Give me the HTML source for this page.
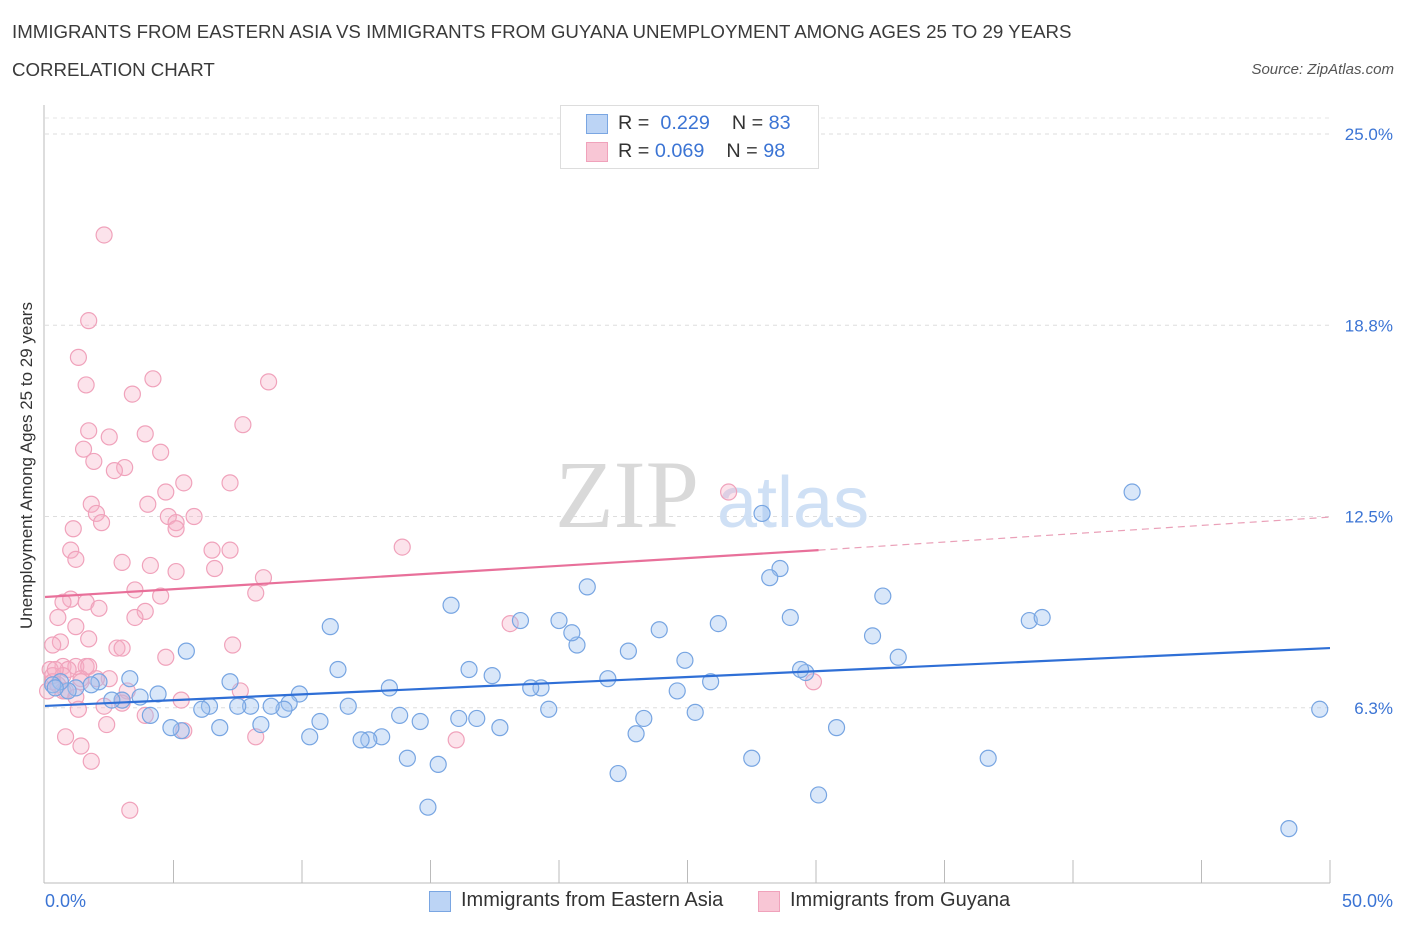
<!DOCTYPE html>
<html><head><meta charset="utf-8"><style>
body{margin:0;background:#fff;font-family:"Liberation Sans",sans-serif;}
#c{position:relative;width:1406px;height:930px;overflow:hidden}
.t{position:absolute;color:#333;white-space:nowrap}
</style></head><body>
<div id="c">
<div class="t" style="left:12px;top:21px;font-size:18.7px;color:#3a3a3a">IMMIGRANTS FROM EASTERN ASIA VS IMMIGRANTS FROM GUYANA UNEMPLOYMENT AMONG AGES 25 TO 29 YEARS</div>
<div class="t" style="left:12px;top:59px;font-size:18.7px;color:#3a3a3a">CORRELATION CHART</div>
<div class="t" style="right:12px;top:61px;font-size:15px;font-style:italic;color:#555">Source: ZipAtlas.com</div>
<svg id="s" width="1406" height="930" style="position:absolute;left:0;top:0"></svg>
</div>
<script>
const blueX=[42.3,49.6,48.4,36.7,38.3,38.8,32.6,32.2,33.2,30.8,30.1,29.6,29.4,29.0,28.6,28.2,27.9,27.5,26.2,25.9,25.3,24.9,24.6,23.9,23.3,23.0,22.7,22.3,21.9,21.1,20.7,20.5,20.0,19.6,19.3,18.9,18.5,17.7,17.4,16.8,16.5,16.1,15.8,15.3,14.9,14.6,14.1,13.8,13.4,13.1,12.6,12.3,11.8,11.4,11.1,10.7,10.3,9.9,9.5,9.3,8.8,8.4,8.0,7.5,7.2,6.8,6.4,6.1,5.5,5.3,4.9,4.4,4.1,3.7,3.3,3.0,2.6,2.1,1.8,1.2,0.9,0.6,0.3,0.4];
const blueY=[13.3,6.2,2.3,4.6,9.1,9.2,9.9,8.6,7.9,5.6,3.4,7.4,7.5,9.2,10.8,10.5,12.6,4.6,9.0,7.1,6.1,7.8,6.8,8.8,5.9,5.4,8.1,4.1,7.2,10.2,8.3,8.7,9.1,6.2,6.9,6.9,9.1,5.6,7.3,5.9,7.5,5.9,9.6,4.4,3.0,5.8,4.6,6.0,6.9,5.3,5.2,5.2,6.3,7.5,8.9,5.8,5.3,6.7,6.4,6.2,6.3,5.7,6.3,6.3,7.1,5.6,6.3,6.2,8.1,5.5,5.6,6.7,6.0,6.6,7.2,6.5,6.5,7.1,7.0,6.9,6.8,7.1,7.0,6.9];
const pinkX=[2.3,1.7,1.3,1.6,4.2,8.7,3.4,7.7,1.7,2.5,3.9,4.5,1.5,1.9,3.1,2.7,7.2,5.4,4.7,1.8,2.0,4.0,4.8,5.8,5.1,2.2,5.1,1.1,13.9,1.0,6.5,7.2,1.2,3.0,4.1,6.6,5.1,8.5,3.5,8.2,4.5,1.0,0.7,1.6,2.1,3.9,3.5,0.5,1.2,18.1,2.8,3.0,7.3,1.7,0.6,0.3,4.7,0.7,1.6,1.2,1.7,0.9,0.2,0.3,0.7,1.4,2.5,2.0,0.3,0.5,1.4,0.8,3.2,7.6,3.0,5.3,2.3,1.3,3.9,2.4,0.8,8.2,16.0,1.4,5.4,1.8,3.3,26.6,29.9,0.4,0.1,0.7,3.0,1.2];
const pinkY=[21.7,18.9,17.7,16.8,17.0,16.9,16.5,15.5,15.3,15.1,15.2,14.6,14.7,14.3,14.1,14.0,13.6,13.6,13.3,12.9,12.6,12.9,12.5,12.5,12.3,12.3,12.1,12.1,11.5,11.4,11.4,11.4,11.1,11.0,10.9,10.8,10.7,10.5,10.1,10.0,9.9,9.8,9.7,9.7,9.5,9.4,9.2,9.2,8.9,9.0,8.2,8.2,8.3,8.5,8.4,8.3,7.9,7.6,7.6,7.6,7.6,7.5,7.5,7.3,7.3,7.2,7.2,7.2,7.1,7.0,7.1,6.8,6.8,6.8,6.5,6.5,6.3,6.2,6.0,5.7,5.3,5.3,5.2,5.0,5.5,4.5,2.9,13.3,7.1,7.5,6.8,6.8,6.4,6.6];
const blueTrend=[6.31,8.2];
const pinkTrend=[9.87,11.4,12.48];
const pinkSolidEnd=30.1;
const yTicks=[6.25,12.5,18.75,25];
const yTickLabels=["6.3%","12.5%","18.8%","25.0%"];

const X=v=>45+v*25.7, Y=v=>899-v*30.6;
const s=document.getElementById('s'),NS='http://www.w3.org/2000/svg';
function mk(t,a,p){const e=document.createElementNS(NS,t);for(const k in a)e.setAttribute(k,a[k]);(p||s).appendChild(e);return e;}
yTicks.forEach((v,i)=>{
 const g=mk('line',{x1:45,x2:1330,y1:Y(v),y2:Y(v),stroke:'#ddd','stroke-dasharray':'4,4'});
 
 
 const t=mk('text',{x:1393,y:Y(v)+6,'text-anchor':'end','font-size':17,fill:'#3b74d4','font-family':'Liberation Sans, sans-serif'});
 t.textContent=yTickLabels[i];
 
 
});
mk('line',{x1:45,x2:1330,y1:118,y2:118,stroke:'#e4e4e4','stroke-dasharray':'4,4'});
mk('line',{x1:44,x2:44,y1:105,y2:883,stroke:'#bbb'});
mk('line',{x1:44,x2:1330,y1:883,y2:883,stroke:'#bbb'});
for(let i=1;i<=10;i++){const l=mk('line',{x1:X(i*5),x2:X(i*5),y1:860,y2:883,stroke:'#bbb'});
 
 }
const w1=mk('text',{x:555,y:527,'font-size':96,fill:'#d9d9d9','font-family':'Liberation Serif, serif'});w1.textContent='ZIP';


const w2=mk('text',{x:717,y:527,'font-size':72,fill:'#cfe0f5','font-family':'Liberation Sans, sans-serif'});w2.textContent='atlas';


pinkX.forEach((v,i)=>{const c=mk('circle',{cx:X(v),cy:Y(pinkY[i]),r:8,fill:'rgba(246,176,198,0.35)',stroke:'#f0a2bb','stroke-width':1.2});
 
 });
blueX.forEach((v,i)=>{const c=mk('circle',{cx:X(v),cy:Y(blueY[i]),r:8,fill:'rgba(160,196,240,0.4)',stroke:'#77a5e2','stroke-width':1.2});
 
 });
const bt=mk('line',{x1:X(0),y1:Y(blueTrend[0]),x2:X(50),y2:Y(blueTrend[1]),stroke:'#2f6fd6','stroke-width':2.2});


const pt=mk('line',{x1:X(0),y1:Y(pinkTrend[0]),x2:X(pinkSolidEnd),y2:Y(pinkTrend[1]),stroke:'#e8709a','stroke-width':2.2});


const pd=mk('line',{x1:X(pinkSolidEnd),y1:Y(pinkTrend[1]),x2:X(50),y2:Y(pinkTrend[2]),stroke:'#eaa0b8','stroke-width':1.2,'stroke-dasharray':'7,5'});


</script>
<div class="t" style="left:45px;top:891px;font-size:18px;color:#3b74d4">0.0%</div>
<div class="t" style="right:13px;top:891px;font-size:18px;color:#3b74d4">50.0%</div>
<div class="t" style="left:-108px;top:484px;font-size:17px;transform:rotate(-90deg);width:270px;text-align:center">Unemployment Among Ages 25 to 29 years</div>
<div style="position:absolute;left:560px;top:105px;width:257px;height:62px;border:1px solid #ddd;background:#fff;font-size:19.8px;color:#333">
 <div style="position:absolute;left:25px;top:8px;width:20px;height:18px;background:#bcd4f5;border:1px solid #7aa6e2"></div>
 <div class="t" style="left:57px;top:6px">R = <span style="color:#3b74d4">&nbsp;0.229</span>&nbsp;&nbsp;&nbsp; N = <span style="color:#3b74d4">83</span></div>
 <div style="position:absolute;left:25px;top:36px;width:20px;height:18px;background:#f8c6d5;border:1px solid #f0a2bb"></div>
 <div class="t" style="left:57px;top:34px">R = <span style="color:#3b74d4">0.069</span>&nbsp;&nbsp;&nbsp; N = <span style="color:#3b74d4">98</span></div>
</div>
<div style="position:absolute;left:429px;top:889px;font-size:20px;color:#333">
 <div style="position:absolute;left:0;top:2px;width:20px;height:19px;background:#bcd4f5;border:1px solid #7aa6e2"></div>
 <div class="t" style="left:32px;top:0">Immigrants from Eastern Asia</div></div>
<div style="position:absolute;left:758px;top:889px;font-size:20px;color:#333">
 <div style="position:absolute;left:0;top:2px;width:20px;height:19px;background:#f8c6d5;border:1px solid #f0a2bb"></div>
 <div class="t" style="left:32px;top:0">Immigrants from Guyana</div></div>
</body></html>
